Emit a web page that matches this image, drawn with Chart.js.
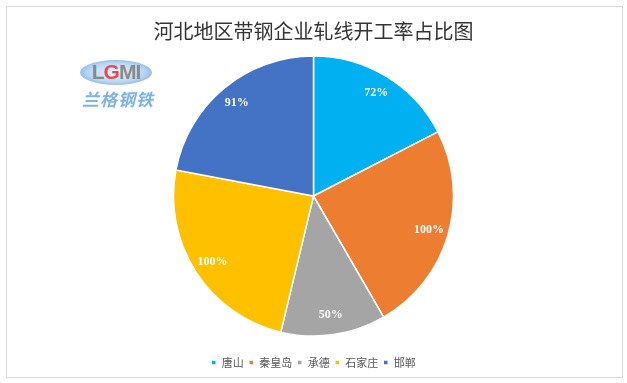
<!DOCTYPE html>
<html>
<head>
<meta charset="utf-8">
<script src="https://cdn.jsdelivr.net/npm/chart.js@4"></script>
<style>
  html,body{margin:0;padding:0;background:#fff;}
  #wrap{position:relative;width:627px;height:383px;}
  #frame{position:absolute;left:6px;top:6px;width:615px;height:370px;border:1px solid #D9D9D9;pointer-events:none;}
  #logo{position:absolute;left:72px;top:56px;width:90px;height:60px;pointer-events:none;}
  #ell{position:absolute;left:8px;top:4px;width:72px;height:25px;border-radius:50%;
       background:radial-gradient(ellipse at center,#eaf3fc 0%,#b9d6f2 55%,#4f93dc 100%);}
  #lgmi{position:absolute;left:8px;top:4px;width:72px;height:25px;line-height:25px;text-align:center;
        font:bold 21px "Liberation Sans",Arial,sans-serif;color:#8a8a8a;letter-spacing:-1px;}
  #lgmi span{color:#e64a55;}
  #cn{position:absolute;left:10px;top:30px;width:80px;font:bold 17px "Noto Sans CJK SC",sans-serif;
      color:#7fb2e8;font-style:italic;letter-spacing:1px;white-space:nowrap;}
</style>
</head>
<body>
<div id="wrap">
  <canvas id="c" width="627" height="383"></canvas>
  <div id="frame"></div>
  <div id="logo">
    <div id="ell"></div>
    <div id="lgmi">L<span>G</span>MI</div>
    <div id="cn">兰格钢铁</div>
  </div>
</div>
<script>
const categories = ["唐山", "秦皇岛", "承德", "石家庄", "邯郸"];
const values = [72, 100, 50, 100, 91];
const valueLabels = ["72%", "100%", "50%", "100%", "91%"];
const colors = ["#00B0F0", "#ED7D31", "#A5A5A5", "#FFC000", "#4472C4"];
const titleText = "河北地区带钢企业轧线开工率占比图";

const labelPlugin = {
  id: "sliceLabels",
  afterDatasetsDraw(chart) {
    const ctx = chart.ctx;
    const meta = chart.getDatasetMeta(0);
    ctx.save();
    ctx.fillStyle = "#ffffff";
    ctx.font = "bold 12px 'Liberation Serif', serif";
    ctx.textAlign = "center";
    ctx.textBaseline = "middle";
    meta.data.forEach((arc, i) => {
      const p = arc.getProps(["x", "y", "startAngle", "endAngle", "outerRadius"], true);
      const mid = (p.startAngle + p.endAngle) / 2;
      const r = p.outerRadius * 0.86;
      ctx.fillText(valueLabels[i], p.x + Math.cos(mid) * r, p.y + Math.sin(mid) * r);
    });
    ctx.restore();
  }
};

new Chart(document.getElementById("c"), {
  type: "pie",
  data: {
    labels: categories,
    datasets: [{
      data: values,
      backgroundColor: colors,
      borderColor: "#ffffff",
      borderWidth: 1.5
    }]
  },
  options: {
    responsive: false,
    animation: false,
    radius: 140,
    layout: { padding: { top: 0, bottom: 5, left: 0, right: 0 } },
    plugins: {
      tooltip: { enabled: false },
      title: {
        display: true,
        text: titleText,
        color: "#333333",
        font: { size: 20, family: "'Noto Sans CJK SC', sans-serif", weight: "normal" },
        padding: { top: 19, bottom: -3 }
      },
      legend: {
        display: true,
        position: "bottom",
        labels: {
          boxWidth: 5,
          boxHeight: 5,
          padding: 5,
          color: "#595959",
          font: { size: 11, family: "'Noto Sans CJK SC', sans-serif" }
        }
      }
    }
  },
  plugins: [labelPlugin]
});
</script>
</body>
</html>
